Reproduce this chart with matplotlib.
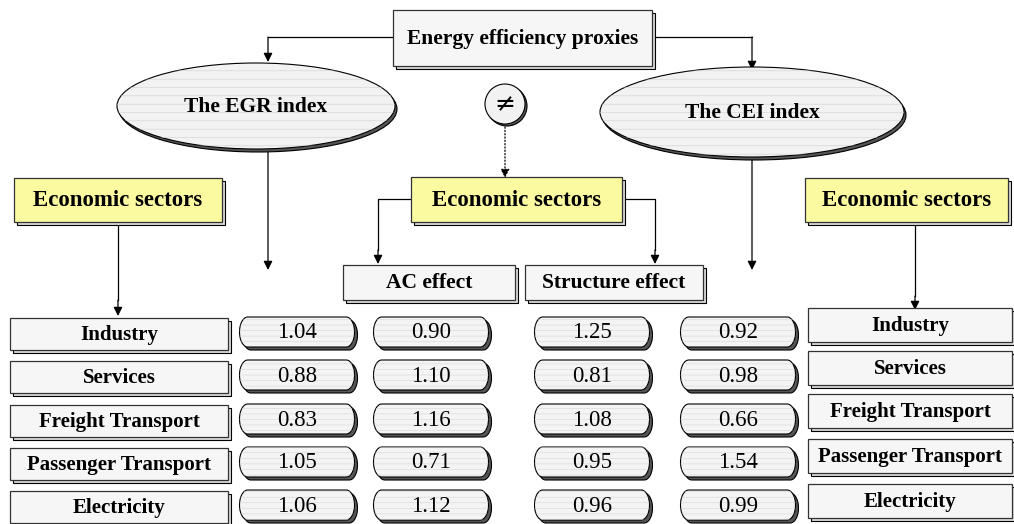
import numpy as np
import matplotlib.pyplot as plt
from matplotlib.patches import Polygon, Ellipse, Rectangle, Circle

plt.rcParams['font.family'] = ['Liberation Serif', 'DejaVu Serif']
plt.rcParams['hatch.linewidth'] = 0.4

# data
sectors = ['Industry', 'Services', 'Freight Transport', 'Passenger Transport', 'Electricity']
egr = [1.04, 0.88, 0.83, 1.05, 1.06]
ac_effect = [0.90, 1.10, 1.16, 0.71, 1.12]
structure_effect = [1.25, 0.81, 1.08, 0.95, 0.96]
cei = [0.92, 0.98, 0.66, 1.54, 0.99]

fig = plt.figure(figsize=(10.14, 5.24), dpi=100)
ax = fig.add_axes([0, 0, 1, 1])
ax.set_xlim(0, 1014)
ax.set_ylim(524, 0)
ax.axis('off')


def box(x0, y0, x1, y1, text, face='#f6f6f6', size=15, off=3):
    ax.add_patch(Rectangle((x0 + off, y0 + off), x1 - x0, y1 - y0, fc='#d8d8d8', ec='black', lw=0.8, zorder=2))
    ax.add_patch(Rectangle((x0, y0), x1 - x0, y1 - y0, fc=face, ec='#333333', lw=0.9, zorder=3))
    ax.text((x0 + x1) / 2, (y0 + y1) / 2 + 1, text, ha='center', va='center', fontsize=size,
            fontweight='bold', zorder=4)


def stadium(cx, cy, w, h):
    r = h / 2
    t = np.linspace(-np.pi / 2, np.pi / 2, 30)
    # right end, then left end
    right = np.column_stack([cx + w / 2 - r * 0.55 + r * 0.55 * np.cos(t), cy + r * np.sin(t)])
    left = np.column_stack([cx - w / 2 + r * 0.55 - r * 0.55 * np.cos(t), cy - r * np.sin(t)])
    return np.vstack([right, left])


def pill(cx, cy, val, w=115, h=30):
    ax.add_patch(Polygon(stadium(cx + 3, cy + 3, w, h), closed=True,
                         fc='#555555', ec='black', lw=0.8, zorder=2))
    ax.add_patch(Polygon(stadium(cx, cy, w, h), closed=True,
                         fc='#f4f4f4', ec='black', lw=0.8, zorder=3))
    ax.add_patch(Polygon(stadium(cx, cy, w, h), closed=True,
                         fc='none', ec='#d6d6d6', lw=0, hatch='---', zorder=3))
    ax.text(cx, cy + 1, '%.2f' % val, ha='center', va='center', fontsize=16.5, zorder=4)


def ellipse(cx, cy, w, h, text):
    ax.add_patch(Ellipse((cx + 2, cy + 3), w, h, fc='#555555', ec='black', lw=0.8, zorder=2))
    ax.add_patch(Ellipse((cx, cy), w, h, fc='#f2f2f2', ec='black', lw=0.8, zorder=3))
    ax.add_patch(Ellipse((cx, cy), w, h, fc='none', ec='#d0d0d0', lw=0, hatch='--', zorder=3))
    ax.text(cx, cy + 1, text, ha='center', va='center', fontsize=15.5, fontweight='bold', zorder=4)


def arrow(x0, y0, x1, y1, ls='-'):
    ax.annotate('', xy=(x1, y1), xytext=(x0, y0),
                arrowprops=dict(arrowstyle='-|>', color='black', lw=0.9, ls=ls,
                                mutation_scale=13, shrinkA=0, shrinkB=0), zorder=1)


def line(xs, ys):
    ax.plot(xs, ys, color='black', lw=0.9, zorder=1)


# top
box(393, 10, 652, 66, 'Energy efficiency proxies', size=15.5)
line([393, 268], [37, 37])
arrow(268, 37, 268, 62)
line([652, 752], [37, 37])
arrow(752, 37, 752, 70)

ellipse(256, 106, 278, 86, 'The EGR index')
ellipse(752, 112, 304, 90, 'The CEI index')

ax.add_patch(Circle((507, 106), 20, fc='#555555', ec='black', lw=0.8, zorder=2))
ax.add_patch(Circle((505, 104), 20, fc='#f2f2f2', ec='black', lw=0.8, zorder=3))
ax.text(505, 104, '\u2260', ha='center', va='center', fontsize=18, zorder=4,
        family=['DejaVu Sans'])
arrow(505, 127, 505, 178, ls=':')

arrow(268, 150, 268, 270)
arrow(752, 158, 752, 270)

# sector headers
box(14, 178, 222, 222, 'Economic sectors', face='#fbfaa0', size=16.5)
box(411, 177, 622, 222, 'Economic sectors', face='#fbfaa0', size=16.5)
box(805, 178, 1008, 222, 'Economic sectors', face='#fbfaa0', size=16.5)

line([118, 118], [225, 300])
arrow(118, 300, 118, 316)
line([411, 378, 378], [199, 199, 250])
arrow(378, 250, 378, 264)
line([622, 655, 655], [199, 199, 250])
arrow(655, 250, 655, 264)
line([915, 915], [225, 296])
arrow(915, 296, 915, 310)

box(343, 265, 515, 300, 'AC effect', size=15.5)
box(525, 265, 703, 300, 'Structure effect', size=15.5)

# rows
left_y = [334, 377, 421, 464, 507]
right_y = [326, 369, 412, 457, 502]
for i, name in enumerate(sectors):
    box(10, left_y[i] - 16, 228, left_y[i] + 16, name, size=15)
    box(808, right_y[i] - 18, 1012, right_y[i] + 16, name, size=15)
    yy = left_y[i] - 2
    pill(297, yy, egr[i])
    pill(431, yy, ac_effect[i])
    pill(592, yy, structure_effect[i])
    pill(738, yy, cei[i])

fig.savefig('out.png', dpi=100)
